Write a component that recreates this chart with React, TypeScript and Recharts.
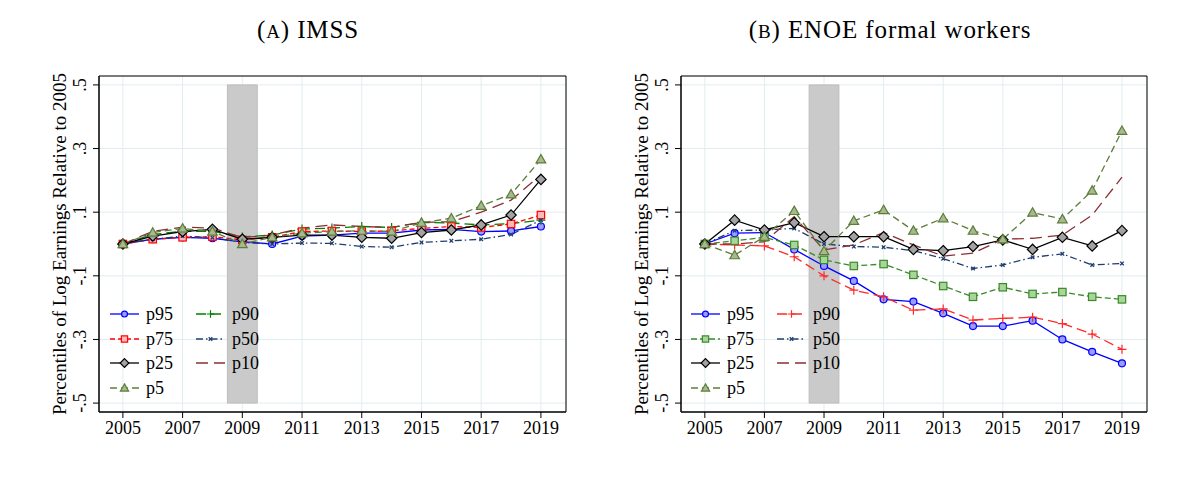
import React from "react";
import {
  LineChart,
  Line,
  XAxis,
  YAxis,
  CartesianGrid,
  ReferenceArea,
  Legend,
} from "recharts";

// years on the x axis
const years = [2005, 2006, 2007, 2008, 2009, 2010, 2011, 2012, 2013, 2014, 2015, 2016, 2017, 2018, 2019];
const xTicks = [2005, 2007, 2009, 2011, 2013, 2015, 2017, 2019];
const yTicks = [-0.5, -0.3, -0.1, 0.1, 0.3, 0.5];
const yTickLabels = ["-.5", "-.3", "-.1", ".1", ".3", ".5"];

// Panel A: IMSS
const imssP95 = [0, 0.015, 0.021, 0.018, 0.007, 0, 0.025, 0.028, 0.034, 0.034, 0.044, 0.046, 0.039, 0.041, 0.055];
const imssP90 = [0, 0.03, 0.04, 0.04, 0.022, 0.028, 0.047, 0.05, 0.055, 0.052, 0.068, 0.066, 0.06, 0.064, 0.075];
const imssP75 = [0, 0.015, 0.021, 0.023, 0.013, 0.021, 0.039, 0.041, 0.039, 0.041, 0.049, 0.055, 0.052, 0.063, 0.091];
const imssP50 = [0, 0.015, 0.025, 0.02, 0.005, 0, 0.003, 0.002, -0.008, -0.01, 0.005, 0.01, 0.015, 0.03, 0.075];
const imssP25 = [0, 0.025, 0.039, 0.046, 0.015, 0.021, 0.028, 0.028, 0.021, 0.018, 0.036, 0.044, 0.06, 0.091, 0.203];
const imssP10 = [0, 0.04, 0.053, 0.05, 0.02, 0.028, 0.05, 0.06, 0.055, 0.052, 0.068, 0.07, 0.1, 0.138, 0.217];
const imssP5 = [0, 0.036, 0.049, 0.039, 0, 0.021, 0.034, 0.039, 0.042, 0.039, 0.067, 0.081, 0.12, 0.156, 0.266];

// Panel B: ENOE formal workers
const enoeP95 = [0, 0.034, 0.036, -0.017, -0.069, -0.116, -0.174, -0.181, -0.218, -0.258, -0.258, -0.241, -0.3, -0.339, -0.375];
const enoeP90 = [0, -0.003, -0.006, -0.04, -0.1, -0.145, -0.166, -0.208, -0.204, -0.239, -0.234, -0.23, -0.25, -0.283, -0.331];
const enoeP75 = [0, 0.01, 0.021, -0.003, -0.05, -0.069, -0.063, -0.097, -0.132, -0.166, -0.136, -0.157, -0.151, -0.166, -0.174];
const enoeP50 = [0, 0.042, 0.044, 0.049, 0, -0.008, -0.01, -0.021, -0.046, -0.077, -0.066, -0.042, -0.031, -0.066, -0.061];
const enoeP25 = [0, 0.075, 0.044, 0.067, 0.023, 0.023, 0.023, -0.017, -0.021, -0.008, 0.013, -0.017, 0.021, -0.006, 0.042];
const enoeP10 = [0, 0, 0.007, 0.086, -0.019, -0.003, 0.036, -0.003, -0.038, -0.029, 0.015, 0.018, 0.028, 0.091, 0.21];
const enoeP5 = [0, -0.035, 0.023, 0.104, -0.022, 0.073, 0.107, 0.042, 0.081, 0.042, 0.015, 0.099, 0.078, 0.168, 0.356];

const FONT = '"Liberation Serif", "Times New Roman", serif';

type Series = {
  key: string;
  color: string;
  fill?: string;
  dash?: string;
  marker: "circle" | "square" | "diamond" | "triangle" | "plus" | "x" | "none";
};

// drawing order follows stata's legend order (row-wise, 2 cols)
const imssSeries: Series[] = [
  { key: "p95", color: "#0000ff", fill: "#9c9cff", marker: "circle" },
  { key: "p90", color: "#008000", dash: "10 5", marker: "plus" },
  { key: "p75", color: "#ff0000", fill: "#ffb8b8", dash: "5 3", marker: "square" },
  { key: "p50", color: "#1f3f6e", dash: "7 3 1.5 3", marker: "x" },
  { key: "p25", color: "#000000", fill: "#a3a3a3", marker: "diamond" },
  { key: "p10", color: "#8b2f35", dash: "12 6", marker: "none" },
  { key: "p5", color: "#5c7d3a", fill: "#a7b98e", dash: "7 4", marker: "triangle" },
];

const enoeSeries: Series[] = [
  { key: "p95", color: "#0000ff", fill: "#9c9cff", marker: "circle" },
  { key: "p90", color: "#ff2a2a", dash: "10 5", marker: "plus" },
  { key: "p75", color: "#3a8a2a", fill: "#a9d49a", dash: "6 3", marker: "square" },
  { key: "p50", color: "#1f3f6e", dash: "7 3 1.5 3", marker: "x" },
  { key: "p25", color: "#000000", fill: "#a3a3a3", marker: "diamond" },
  { key: "p10", color: "#8b2f35", dash: "12 6", marker: "none" },
  { key: "p5", color: "#5c7d3a", fill: "#a7b98e", dash: "7 4", marker: "triangle" },
];

const buildRows = (cols: Record<string, number[]>) =>
  years.map((year, i) => {
    const row: { [k: string]: number } = { year };
    Object.keys(cols).forEach((k) => {
      row[k] = cols[k][i];
    });
    return row;
  });

const imssData = buildRows({ p95: imssP95, p90: imssP90, p75: imssP75, p50: imssP50, p25: imssP25, p10: imssP10, p5: imssP5 });
const enoeData = buildRows({ p95: enoeP95, p90: enoeP90, p75: enoeP75, p50: enoeP50, p25: enoeP25, p10: enoeP10, p5: enoeP5 });

// sc scales the marker (legend symbols are a bit smaller)
const drawMarker = (s: Series, cx: number, cy: number, key?: any, sc = 1) => {
  const common = { stroke: s.color, strokeWidth: 1.2, fill: s.fill || "none" };
  switch (s.marker) {
    case "circle":
      return <circle key={key} cx={cx} cy={cy} r={3.5 * sc} {...common} />;
    case "square": {
      const h = 3.7 * sc;
      return <rect key={key} x={cx - h} y={cy - h} width={2 * h} height={2 * h} {...common} />;
    }
    case "diamond": {
      const h = 5.2 * sc;
      return (
        <polygon key={key} points={`${cx},${cy - h} ${cx + h},${cy} ${cx},${cy + h} ${cx - h},${cy}`} {...common} />
      );
    }
    case "triangle": {
      const h = 4.8 * sc;
      return (
        <polygon
          key={key}
          points={`${cx},${cy - h} ${cx + h},${cy + h * 0.75} ${cx - h},${cy + h * 0.75}`}
          {...common}
        />
      );
    }
    case "plus": {
      const h = 4.5 * sc;
      return (
        <path key={key} d={`M${cx - h},${cy}h${2 * h}M${cx},${cy - h}v${2 * h}`} stroke={s.color} strokeWidth={1.2} fill="none" />
      );
    }
    case "x":
      return (
        <path
          key={key}
          d={`M${cx - 1.8},${cy - 1.8}l3.6,3.6M${cx + 1.8},${cy - 1.8}l-3.6,3.6`}
          stroke={s.color}
          strokeWidth={1.3}
          fill="none"
        />
      );
    default:
      return <g key={key} />;
  }
};

const YTick = (props: any) => {
  const { x, y, payload } = props;
  const idx = yTicks.indexOf(payload.value);
  return (
    <text
      x={x}
      y={y}
      transform={`rotate(-90 ${x} ${y})`}
      textAnchor="middle"
      fontSize={18}
      fontFamily={FONT}
      fill="#000"
    >
      {idx >= 0 ? yTickLabels[idx] : payload.value}
    </text>
  );
};

// legend in two columns, like the stata one
const LegendBox = ({ series }: { series: Series[] }) => {
  const col1 = ["p95", "p75", "p25", "p5"];
  const col2 = ["p90", "p50", "p10"];
  const item = (k: string, row: number, col: number) => {
    const s = series.find((d) => d.key === k)!;
    return (
      <div
        key={k}
        style={{
          position: "absolute",
          left: col * 86,
          top: row * 24.6,
          height: 24.6,
          display: "flex",
          alignItems: "center",
          whiteSpace: "nowrap",
        }}
      >
        <svg width={30} height={24} style={{ overflow: "visible" }}>
          <line x1={0} x2={29} y1={12} y2={12} stroke={s.color} strokeWidth={1.3} strokeDasharray={s.dash} />
          {drawMarker(s, 14.5, 12, undefined, 0.85)}
        </svg>
        <span style={{ marginLeft: 6, fontSize: 18, fontFamily: FONT, color: "#000", lineHeight: "18px" }}>{k}</span>
      </div>
    );
  };
  return (
    <div style={{ position: "relative", width: 180, height: 100 }}>
      {col1.map((k, i) => item(k, i, 0))}
      {col2.map((k, i) => item(k, i, 1))}
    </div>
  );
};

type PanelProps = {
  data: any[];
  series: Series[];
  marginLeft: number;
  marginRight: number;
  legendLeft: number;
};

const Panel = ({ data, series, marginLeft, marginRight, legendLeft }: PanelProps) => (
  <LineChart
    width={599}
    height={480}
    data={data}
    margin={{ top: 76, right: marginRight, bottom: 38, left: marginLeft }}
    style={{ fontFamily: FONT }}
  >
    <CartesianGrid stroke="#e2edf0" strokeWidth={1} />
    <XAxis
      dataKey="year"
      type="number"
      domain={[2004.2, 2019.84]}
      ticks={xTicks}
      allowDataOverflow
      height={30}
      tickSize={6}
      tickMargin={3}
      stroke="#000"
      tick={{ fill: "#000", fontSize: 18, fontFamily: FONT }}
    />
    <YAxis
      type="number"
      domain={[-0.528, 0.528]}
      ticks={yTicks}
      allowDataOverflow
      width={60}
      tickSize={6}
      tickMargin={7}
      stroke="#000"
      tick={<YTick />}
    />
    <ReferenceArea x1={2008.5} x2={2009.5} y1={-0.5} y2={0.5} fill="#cacaca" fillOpacity={1} stroke="#bcbcbc" />
    <ReferenceArea x1={2004.2} x2={2019.84} y1={-0.528} y2={0.528} fill="none" stroke="#000" strokeWidth={1} />
    {series.map((s) => (
      <Line
        key={s.key}
        dataKey={s.key}
        type="linear"
        stroke={s.color}
        strokeWidth={1.3}
        strokeDasharray={s.dash}
        isAnimationActive={false}
        dot={
          s.marker === "none"
            ? false
            : (p: any) => drawMarker(s, p.cx, p.cy, `${s.key}-${p.index}`)
        }
        activeDot={false}
      />
    ))}
    <Legend
      layout="horizontal"
      verticalAlign="middle"
      align="center"
      wrapperStyle={{ left: legendLeft, top: 302, width: 180, height: 100 }}
      content={() => <LegendBox series={series} />}
    />
  </LineChart>
);

const AxisTitle = ({ centerX }: { centerX: number }) => (
  <div
    style={{
      position: "absolute",
      left: centerX - 200,
      top: 244 - 10,
      width: 400,
      height: 20,
      lineHeight: "20px",
      textAlign: "center",
      fontSize: 19,
      fontFamily: FONT,
      transform: "rotate(-90deg)",
      whiteSpace: "nowrap",
    }}
  >
    Percentiles of Log Earnings Relative to 2005
  </div>
);

const Title = ({ centerX, letter, text }: { centerX: number; letter: string; text: string }) => (
  <div
    style={{
      position: "absolute",
      left: centerX - 250,
      top: 16,
      width: 500,
      textAlign: "center",
      fontSize: 25,
      lineHeight: "28px",
      letterSpacing: "0.9px",
      fontFamily: FONT,
    }}
  >
    (<span style={{ fontSize: 19 }}>{letter}</span>) {text}
  </div>
);

export default function App() {
  return (
    <div style={{ position: "absolute", left: 0, top: 0, width: 1198, height: 480, background: "#fff" }}>
      <div style={{ position: "absolute", left: 0, top: 0 }}>
        <Panel data={imssData} series={imssSeries} marginLeft={39} marginRight={33} legendLeft={110} />
      </div>
      <div style={{ position: "absolute", left: 599, top: 0 }}>
        <Panel data={enoeData} series={enoeSeries} marginLeft={22} marginRight={51} legendLeft={92} />
      </div>
      <AxisTitle centerX={60} />
      <AxisTitle centerX={642} />
      <Title centerX={308} letter="A" text="IMSS" />
      <Title centerX={890} letter="B" text="ENOE formal workers" />
    </div>
  );
}
